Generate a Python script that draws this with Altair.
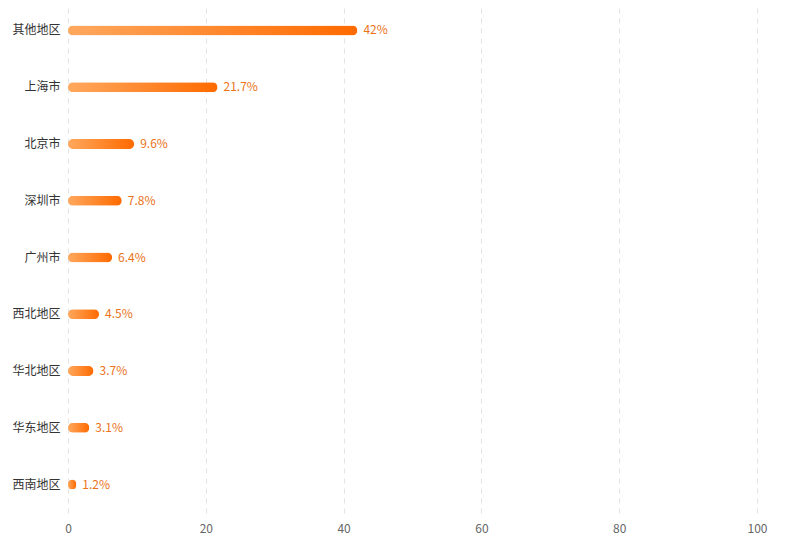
import altair as alt
import pandas as pd

regions = ["其他地区", "上海市", "北京市", "深圳市", "广州市", "西北地区", "华北地区", "华东地区", "西南地区"]
shares = [42, 21.7, 9.6, 7.8, 6.4, 4.5, 3.7, 3.1, 1.2]
labels = ["42%", "21.7%", "9.6%", "7.8%", "6.4%", "4.5%", "3.7%", "3.1%", "1.2%"]

df = pd.DataFrame({"region": regions, "share": shares, "label": labels})

FONT = "Noto Sans CJK SC"

y_enc = alt.Y("region:N", sort=regions, title=None,
              scale=alt.Scale(paddingInner=0, paddingOuter=0),
              axis=alt.Axis(domain=False, ticks=False, labelFontSize=12, labelColor="#333333",
                            labelFont=FONT, labelPadding=8, grid=False))
x_enc = alt.X("share:Q", title=None, scale=alt.Scale(domain=[0, 100], nice=False),
              axis=alt.Axis(values=[0, 20, 40, 60, 80, 100], domain=False, ticks=False,
                            labelFontSize=12, labelColor="#666666", labelFont=FONT,
                            labelFlush=False, labelPadding=10, grid=True,
                            gridColor="#e3e3e3", gridDash=[5, 5], gridWidth=1))

bars = alt.Chart(df).mark_bar(
    height=10, cornerRadius=5,
    color=alt.Gradient(gradient="linear",
                       stops=[alt.GradientStop(color="#FFA85E", offset=0),
                              alt.GradientStop(color="#FF6A00", offset=1)],
                       x1=0, x2=1, y1=0, y2=0)
).encode(x=x_enc, y=y_enc)

text = alt.Chart(df).mark_text(align="left", baseline="middle", dx=6,
                               fontSize=12, font=FONT, color="#EA7219").encode(
    x=alt.X("share:Q"), y=alt.Y("region:N", sort=regions), text="label:N")

chart = (bars + text).properties(
    width=689, height=511,
    autosize=alt.AutoSizeParams(type="none"),
    padding={"left": 60, "top": -6, "right": 20, "bottom": 40},
).configure_view(stroke=None)

chart.save("out.html", embed_options={"renderer": "svg", "actions": False})
